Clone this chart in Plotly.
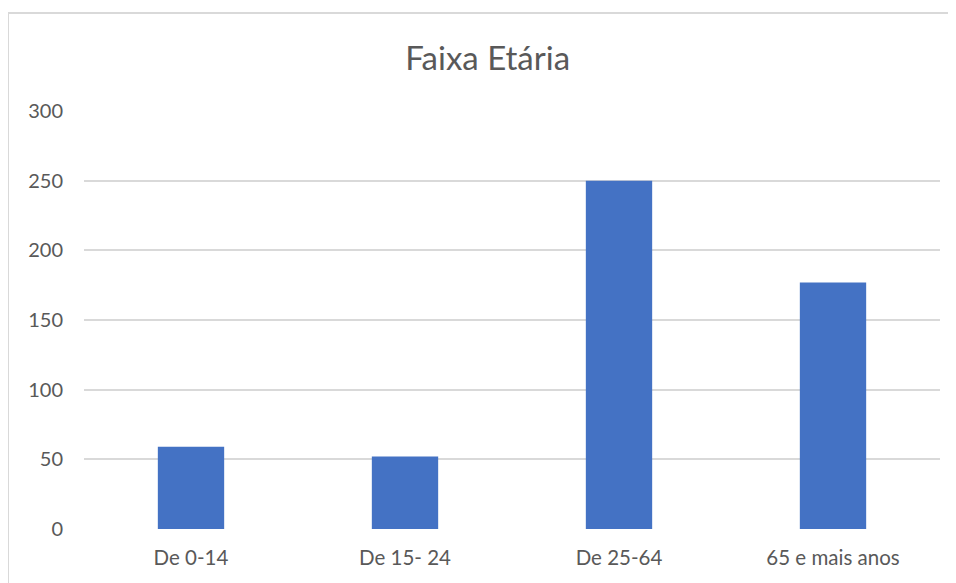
import plotly.graph_objects as go

# Age-group counts
categories = ["De 0-14", "De 15- 24", "De 25-64", "65 e mais anos"]
counts = [59, 52, 250, 177]
y_ticks = [0, 50, 100, 150, 200, 250, 300]

TEXT = "#595959"
GRID = "#D9D9D9"

fig = go.Figure(
    go.Bar(x=categories, y=counts, marker=dict(color="#4472C4", line=dict(width=0)))
)

# the page body adds an 8px margin, so the figure is 8px smaller each way
fig.update_layout(
    width=948,
    height=575,
    margin=dict(l=76, r=16, t=103, b=54),
    paper_bgcolor="white",
    plot_bgcolor="white",
    bargap=0.69,
    showlegend=False,
    font=dict(family="Lato, sans-serif", color=TEXT),
    title=dict(
        text="Faixa Etária",
        x=0.506,
        xanchor="center",
        y=0.913,
        yanchor="middle",
        font=dict(size=33, color=TEXT),
    ),
)

fig.update_yaxes(
    range=[0, 300],
    tickvals=y_ticks,
    showgrid=True,
    gridcolor=GRID,
    gridwidth=1.5,
    zeroline=False,
    showline=False,
    ticks="",
    ticklabelstandoff=20,
    tickfont=dict(size=20, color=TEXT),
)
fig.update_xaxes(
    showgrid=False,
    showline=False,
    ticks="",
    ticklabelstandoff=14,
    tickfont=dict(size=20.5, color=TEXT),
)

# light chart-area border (top and left edges visible in the crop)
fig.add_shape(type="line", xref="paper", yref="paper",
              x0=-0.0888, x1=-0.0888, y0=1.2344, y1=-0.2,
              line=dict(color=GRID, width=2))
fig.add_shape(type="line", xref="paper", yref="paper",
              x0=-0.0888, x1=1.1, y0=1.2344, y1=1.2344,
              line=dict(color=GRID, width=2))

fig.write_html("out.html")
